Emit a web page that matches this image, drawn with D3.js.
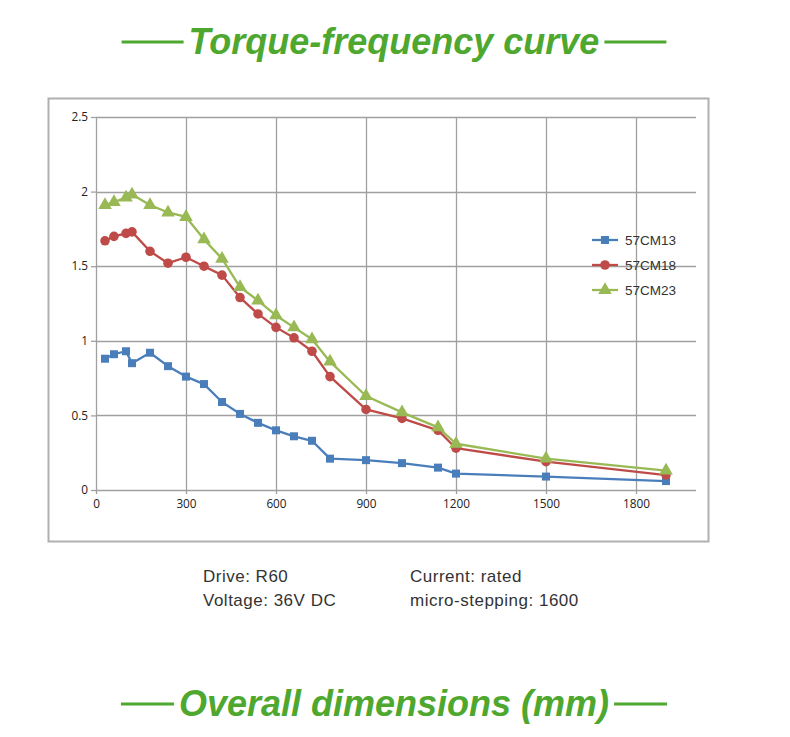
<!DOCTYPE html>
<html>
<head>
<meta charset="utf-8">
<script src="https://cdn.jsdelivr.net/npm/d3@7"></script>
<style>
  body { margin: 0; background: #fff; }
  svg { display: block; }
</style>
</head>
<body>
<div id="chart"></div>
<script>
// speeds (rpm) and torque values (N.m)
var speeds = [30, 60, 100, 120, 180, 240, 300, 360, 420, 480, 540, 600, 660, 720, 780, 900, 1020, 1140, 1200, 1500, 1900];
var cm13 = [0.88, 0.91, 0.93, 0.85, 0.92, 0.83, 0.76, 0.71, 0.59, 0.51, 0.45, 0.40, 0.36, 0.33, 0.21, 0.20, 0.18, 0.15, 0.11, 0.09, 0.06];
var cm18 = [1.67, 1.70, 1.72, 1.73, 1.60, 1.52, 1.56, 1.50, 1.44, 1.29, 1.18, 1.09, 1.02, 0.93, 0.76, 0.54, 0.48, 0.40, 0.28, 0.19, 0.10];
var cm23 = [1.91, 1.93, 1.96, 1.98, 1.91, 1.86, 1.83, 1.68, 1.55, 1.36, 1.27, 1.17, 1.09, 1.01, 0.86, 0.63, 0.52, 0.42, 0.31, 0.21, 0.13];
var seriesNames = ["57CM13", "57CM18", "57CM23"];
var xTicks = [0, 300, 600, 900, 1200, 1500, 1800];
var yTicks = [0, 0.5, 1, 1.5, 2, 2.5];
var notesLeft = ["Drive: R60", "Voltage: 36V DC"];
var notesRight = ["Current: rated", "micro-stepping: 1600"];

var W = 790, H = 737;
var green = "#4ea72e";
var colors = ["#4a7ebb", "#be4b48", "#98b954"];
var shapes = [d3.symbolSquare, d3.symbolCircle, d3.symbolTriangle];
var sizes = [64, 72, 80];

var svg = d3.select("#chart").append("svg")
    .attr("width", W)
    .attr("height", H);

// green headings with rules on both sides
function heading(text, y, len) {
    var t = svg.append("text")
        .attr("x", W / 2 - 1).attr("y", y)
        .attr("text-anchor", "middle")
        .attr("font-family", "Liberation Sans, Arial, sans-serif")
        .attr("font-weight", "bold")
        .attr("font-style", "italic")
        .attr("font-size", 36)
        .attr("fill", green)
        .text(text);
    var bb = t.node().getBBox();
    var gap = 5;
    svg.append("line")
        .attr("x1", bb.x - gap - len).attr("x2", bb.x - gap)
        .attr("y1", y - 12).attr("y2", y - 12)
        .attr("stroke", green).attr("stroke-width", 3);
    svg.append("line")
        .attr("x1", bb.x + bb.width + gap).attr("x2", bb.x + bb.width + gap + len)
        .attr("y1", y - 12).attr("y2", y - 12)
        .attr("stroke", green).attr("stroke-width", 3);
}
heading("Torque-frequency curve", 54, 62);
heading("Overall dimensions (mm)", 716, 53);

// chart frame
svg.append("rect")
    .attr("x", 48.5).attr("y", 98.5)
    .attr("width", 660).attr("height", 443)
    .attr("fill", "none")
    .attr("stroke", "#b0b0b0")
    .attr("stroke-width", 2);

var x = d3.scaleLinear().domain([0, 2000]).range([96, 696]);
var y = d3.scaleLinear().domain([0, 2.5]).range([490, 117]);

var grid = svg.append("g");
grid.selectAll("line.h").data(yTicks).enter().append("line")
    .attr("x1", x(0)).attr("x2", x(2000))
    .attr("y1", function(d){ return Math.round(y(d)) + 0.5; })
    .attr("y2", function(d){ return Math.round(y(d)) + 0.5; })
    .attr("stroke", "#a0a0a0").attr("stroke-width", 1.3);
grid.selectAll("line.v").data(xTicks).enter().append("line")
    .attr("x1", function(d){ return Math.round(x(d)) + 0.5; })
    .attr("x2", function(d){ return Math.round(x(d)) + 0.5; })
    .attr("y1", y(2.5)).attr("y2", y(0) + 4)
    .attr("stroke", "#a0a0a0").attr("stroke-width", 1.3);

var yAxis = svg.append("g")
    .attr("transform", "translate(" + x(0) + ",0)")
    .call(d3.axisLeft(y).tickValues(yTicks).tickSize(5).tickPadding(3)
        .tickFormat(function(d){ return String(d); }));
var xAxis = svg.append("g")
    .attr("transform", "translate(0," + (y(0) + 4) + ")")
    .call(d3.axisBottom(x).tickValues(xTicks).tickSize(0).tickPadding(6)
        .tickFormat(function(d){ return String(d); }));
[yAxis, xAxis].forEach(function(a) {
    a.select(".domain").remove();
    a.selectAll(".tick line").attr("stroke", "#a0a0a0").attr("stroke-width", 1.3);
    a.selectAll("text")
        .attr("font-family", "Open Sans, sans-serif")
        .attr("font-size", 11.8)
        .attr("fill", "#222");
});

var all = [cm13, cm18, cm23];
var line = d3.line()
    .x(function(d){ return x(d[0]); })
    .y(function(d){ return y(d[1]); });

all.forEach(function(vals, i) {
    var pts = speeds.map(function(s, j){ return [s, vals[j]]; });
    svg.append("path")
        .datum(pts)
        .attr("d", line)
        .attr("fill", "none")
        .attr("stroke", colors[i])
        .attr("stroke-width", 2.3)
        .attr("stroke-linejoin", "round");
    svg.append("g").selectAll("path").data(pts).enter().append("path")
        .attr("transform", function(d){ return "translate(" + x(d[0]) + "," + y(d[1]) + ")"; })
        .attr("d", d3.symbol().type(shapes[i]).size(sizes[i]))
        .attr("fill", colors[i]);
});

// legend
var legend = svg.append("g").attr("transform", "translate(592,240)");
seriesNames.forEach(function(name, i) {
    var row = legend.append("g").attr("transform", "translate(0," + (i * 25) + ")");
    row.append("line")
        .attr("x1", 0).attr("x2", 26)
        .attr("stroke", colors[i]).attr("stroke-width", 2.3);
    row.append("path")
        .attr("transform", "translate(13,0)")
        .attr("d", d3.symbol().type(shapes[i]).size(sizes[i]))
        .attr("fill", colors[i]);
    row.append("text")
        .attr("x", 33).attr("y", 5)
        .attr("font-family", "Liberation Sans, Arial, sans-serif")
        .attr("font-size", 13.5)
        .attr("fill", "#333")
        .text(name);
});

// drive notes under the chart
function notes(lines, x0) {
    svg.append("g").selectAll("text").data(lines).enter().append("text")
        .attr("x", x0)
        .attr("y", function(d, i){ return 582 + i * 24; })
        .attr("font-family", "Liberation Sans, Arial, sans-serif")
        .attr("font-size", 17)
        .attr("letter-spacing", 0.5)
        .attr("fill", "#333")
        .text(function(d){ return d; });
}
notes(notesLeft, 203);
notes(notesRight, 410);
</script>
</body>
</html>
